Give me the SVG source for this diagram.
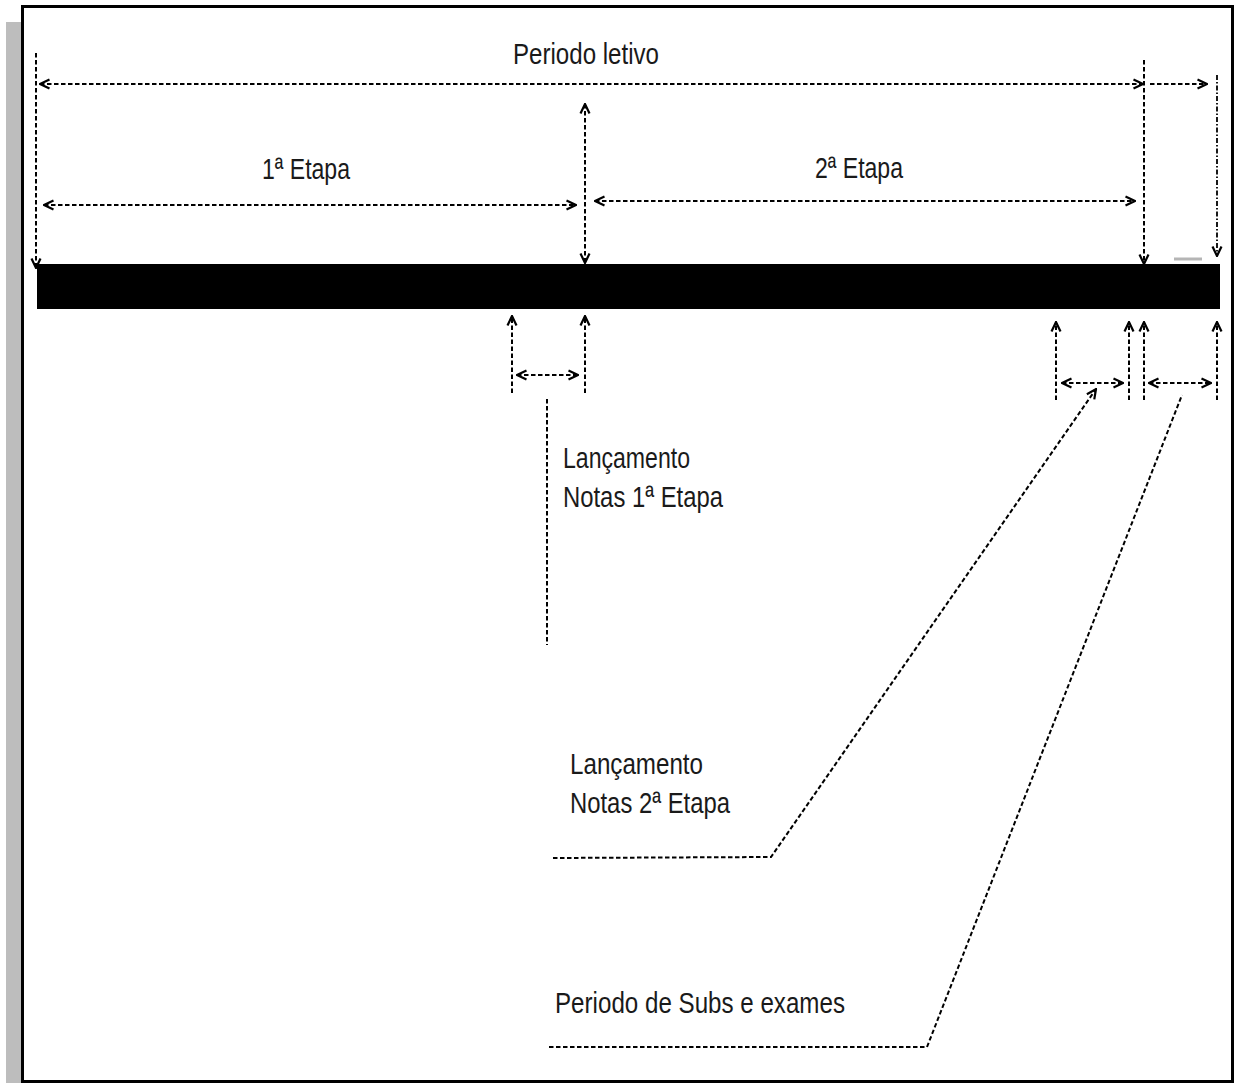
<svg xmlns="http://www.w3.org/2000/svg" width="1235" height="1083" viewBox="0 0 1235 1083">
  <defs>
    <marker id="head" viewBox="0 0 12 12" refX="11" refY="6" markerWidth="12" markerHeight="12" markerUnits="userSpaceOnUse" orient="auto-start-reverse">
      <path d="M1.5,1.5 L11,6 L1.5,10.5" fill="none" stroke="#000" stroke-width="2.2"/>
    </marker>
    <style>
      .dash { fill: none; stroke: #000; stroke-width: 2; stroke-dasharray: 4.5 2.5; }
      .dashdot { fill: none; stroke: #000; stroke-width: 1.8; stroke-dasharray: 5 2 1.5 2; }
      .both { marker-start: url(#head); marker-end: url(#head); }
      .end { marker-end: url(#head); }
      .lbl { font-family: "Liberation Sans", Arial, sans-serif; font-size: 30px; fill: #1a1a1a; }
    </style>
  </defs>

  <rect width="1235" height="1083" fill="#fff"/>
  <!-- page shadow and frame -->
  <rect x="6" y="22" width="15" height="1061" fill="#bdbdbd"/>
  <rect x="22.5" y="6.5" width="1210" height="1075" fill="none" stroke="#000" stroke-width="3"/>

  <!-- timeline bar -->
  <g id="timeline">
    <rect x="37" y="264" width="1183" height="45" fill="#000"/>
    <line x1="1174" y1="259" x2="1202" y2="259" stroke="#b5b5b5" stroke-width="3"/>
  </g>

  <g id="connectors">
    <!-- periodo letivo -->
    <line class="dash both" x1="40" y1="84" x2="1143" y2="84"/>
    <line class="dash end" x1="1150" y1="84" x2="1207" y2="84"/>
    <line class="dash end" x1="36" y1="53" x2="36" y2="268"/>
    <line class="dash end" x1="1144" y1="60" x2="1144" y2="264"/>
    <line class="dashdot end" x1="1217" y1="75" x2="1217" y2="256"/>
    <line class="dash both" x1="585" y1="104" x2="585" y2="263"/>
    <!-- etapas -->
    <line class="dash both" x1="44" y1="205" x2="576" y2="205"/>
    <line class="dash both" x1="595" y1="201" x2="1135" y2="201"/>
    <!-- lancamento 1a etapa -->
    <line class="dash end" x1="512" y1="393" x2="512" y2="316"/>
    <line class="dash end" x1="585" y1="393" x2="585" y2="316"/>
    <line class="dash both" x1="517" y1="375" x2="578" y2="375"/>
    <line class="dash" x1="547" y1="399" x2="547" y2="645"/>
    <!-- lancamento 2a etapa / subs -->
    <line class="dash end" x1="1056" y1="400" x2="1056" y2="322"/>
    <line class="dash end" x1="1129" y1="400" x2="1129" y2="322"/>
    <line class="dash end" x1="1144" y1="400" x2="1144" y2="322"/>
    <line class="dash end" x1="1217" y1="400" x2="1217" y2="322"/>
    <line class="dash both" x1="1062" y1="383" x2="1123" y2="383"/>
    <line class="dash both" x1="1149" y1="383" x2="1211" y2="383"/>
    <!-- leaders -->
    <polyline class="dash end" points="553,858 771,857 1096,389"/>
    <polyline class="dash" points="549,1047 927,1047 1182,395"/>
  </g>

  <g id="periodo-letivo">
    <text class="lbl" x="513" y="64" textLength="146" lengthAdjust="spacingAndGlyphs">Periodo letivo</text>
  </g>
  <g id="etapa-1">
    <text class="lbl" x="262" y="179" textLength="88" lengthAdjust="spacingAndGlyphs">1ª Etapa</text>
  </g>
  <g id="etapa-2">
    <text class="lbl" x="815" y="178" textLength="88" lengthAdjust="spacingAndGlyphs">2ª Etapa</text>
  </g>
  <g id="lancamento-1">
    <text class="lbl" x="563" y="468" textLength="127" lengthAdjust="spacingAndGlyphs">Lançamento</text>
    <text class="lbl" x="563" y="507" textLength="160" lengthAdjust="spacingAndGlyphs">Notas 1ª Etapa</text>
  </g>
  <g id="lancamento-2">
    <text class="lbl" x="570" y="774" textLength="133" lengthAdjust="spacingAndGlyphs">Lançamento</text>
    <text class="lbl" x="570" y="813" textLength="160" lengthAdjust="spacingAndGlyphs">Notas 2ª Etapa</text>
  </g>
  <g id="subs-exames">
    <text class="lbl" x="555" y="1013" textLength="290" lengthAdjust="spacingAndGlyphs">Periodo de Subs e exames</text>
  </g>
</svg>
